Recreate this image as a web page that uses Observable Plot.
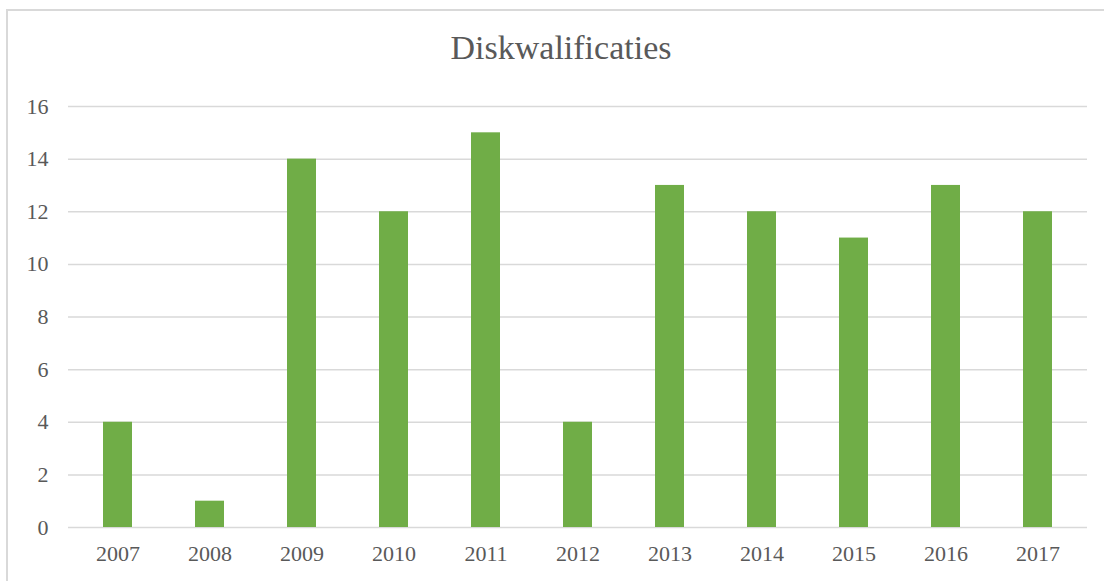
<!DOCTYPE html>
<html>
<head>
<meta charset="utf-8">
<script src="https://cdn.jsdelivr.net/npm/d3@7"></script>
<script src="https://cdn.jsdelivr.net/npm/@observablehq/plot@0.6"></script>
<style>
  html, body { margin: 0; padding: 0; background: #fff; }
  #wrap { position: relative; width: 1104px; height: 581px; overflow: hidden; }
  #frame { position: absolute; left: 6px; top: 9px; width: 1200px; height: 700px;
           border-left: 2px solid #d9d9d9; border-top: 2px solid #d9d9d9; box-sizing: border-box; }
  #title { position: absolute; left: 0; width: 1122px; top: 26px; text-align: center;
           font-family: "Liberation Serif", "Times New Roman", serif; font-size: 34px; color: #595959; line-height: 44px; }
  #chart { position: absolute; left: 0; top: 0; }
</style>
</head>
<body>
<div id="wrap">
  <div id="frame"></div>
  <div id="chart"></div>
  <div id="title">Diskwalificaties</div>
</div>
<script>
const years = ["2007","2008","2009","2010","2011","2012","2013","2014","2015","2016","2017"];
const values = [4, 1, 14, 12, 15, 4, 13, 12, 11, 13, 12];
const yTicks = [0, 2, 4, 6, 8, 10, 12, 14, 16];

const data = years.map((y, i) => ({year: y, value: values[i]}));

const chart = Plot.plot({
  width: 1104,
  height: 581,
  marginLeft: 68,
  marginRight: 17,
  marginTop: 106,
  marginBottom: 54,
  style: {fontFamily: "'Liberation Serif', 'Times New Roman', serif", fontSize: "22px", color: "#595959", background: "transparent"},
  x: {domain: years, paddingInner: 0.69, paddingOuter: 0.345, label: null},
  y: {domain: [0, 16], label: null},
  marks: [
    Plot.gridY(yTicks, {stroke: "#d9d9d9", strokeOpacity: 1, strokeWidth: 1.5}),
    Plot.barY(data, {x: "year", y: "value", fill: "#70AD47"}),
    Plot.axisY(yTicks, {tickSize: 0, tickPadding: 20, textAnchor: "end", label: null, fill: "#595959", fontSize: 22}),
    Plot.axisX({tickSize: 0, tickPadding: 18, label: null, fill: "#595959", fontSize: 22})
  ]
});
document.getElementById("chart").appendChild(chart);
</script>
</body>
</html>
